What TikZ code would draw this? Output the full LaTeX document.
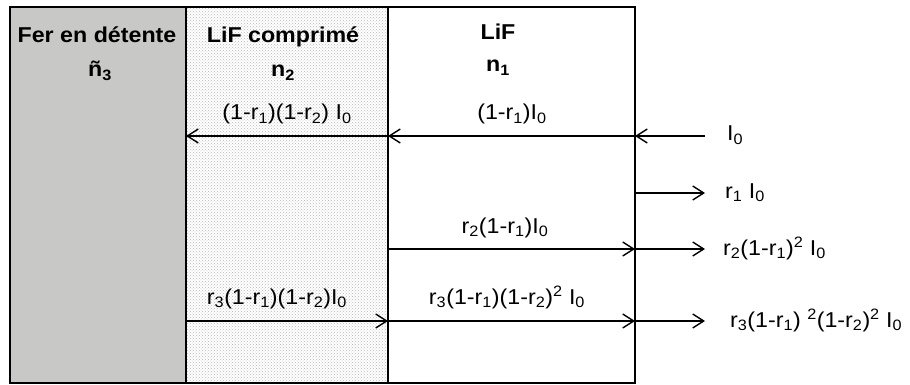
\documentclass[tikz,border=0pt]{standalone}
\usepackage{fontspec}
\setmainfont{Liberation Sans}[FakeStretch=1.08]
\usetikzlibrary{arrows.meta,patterns}
\definecolor{ferfill}{RGB}{200,201,199}
\newcommand{\rsub}[1]{r\textsubscript{#1}}
\newcommand{\nsub}[1]{n\textsubscript{#1}}
\newcommand{\Izero}{I\textsubscript{0}}
\newcommand{\sq}{\textsuperscript{2}}
\tikzset{
  title/.style={font=\fontsize{21.5}{25}\selectfont\bfseries, anchor=base, inner sep=0pt},
  flux/.style={font=\fontsize{21.5}{25}\selectfont, anchor=base, inner sep=0pt},
  exitlabel/.style={flux, anchor=base west},
  ray/.style={->, line width=1.4pt},
  wall/.style={line width=2pt}
}

\begin{document}
\begin{tikzpicture}[x=1pt, y=-1pt, >={Straight Barb[length=11pt,width=14pt]}]
\useasboundingbox (0,0) rectangle (910,385);
\fill[ferfill] (10,7) rectangle (186,383);
\fill[white] (186,7) rectangle (388,383);
\fill[pattern=crosshatch dots, pattern color=gray!55] (186,7) rectangle (388,383);
\draw[wall] (186,7) -- (186,383);
\draw[wall] (388,7) -- (388,383);
\draw[line width=2.6pt] (10,7) rectangle (635,383);

\node[title] (fer) at (97,43) {Fer en détente};
\node[title] (nfer) at (100,77) {ñ\textsubscript{3}};
\node[title] (lifc) at (283,43) {LiF comprimé};
\node[title] (nlifc) at (283,77) {\nsub{2}};
\node[title] (lif) at (498,40) {LiF};
\node[title] (nlif) at (498,72) {\nsub{1}};

\coordinate (src) at (705,136);
\coordinate (inA) at (635,136);
\coordinate (inB) at (388,136);
\coordinate (inC) at (186,136);
\coordinate (r1a) at (635,193);
\coordinate (r1b) at (705,193);
\coordinate (r2a) at (388,249);
\coordinate (r2b) at (635,249);
\coordinate (r2c) at (705,249);
\coordinate (r3a) at (186,321);
\coordinate (r3b) at (388,321);
\coordinate (r3c) at (635,321);
\coordinate (r3d) at (705,321);

\draw[ray] (src) -- (inA);
\draw[ray] (inA) -- (inB);
\draw[ray] (inB) -- (inC);
\draw[ray] (r1a) -- (r1b);
\draw[ray] (r2a) -- (r2b);
\draw[ray] (r2b) -- (r2c);
\draw[ray] (r3a) -- (r3b);
\draw[ray] (r3b) -- (r3c);
\draw[ray] (r3c) -- (r3d);

\node[flux] (t21) at (287,120) {(1-\rsub{1})(1-\rsub{2}) \Izero};
\node[flux] (t11) at (512,120) {(1-\rsub{1})\Izero};
\node[flux] (t12) at (505,233) {\rsub{2}(1-\rsub{1})\Izero};
\node[flux] (t13) at (507,304) {\rsub{3}(1-\rsub{1})(1-\rsub{2})\sq{} \Izero};
\node[flux] (t23) at (277,304) {\rsub{3}(1-\rsub{1})(1-\rsub{2})\Izero};

\node[exitlabel] (e0) at (727,141) {\Izero};
\node[exitlabel] (e1) at (725,198) {\rsub{1} \Izero};
\node[exitlabel] (e2) at (723,255) {\rsub{2}(1-\rsub{1})\sq{} \Izero};
\node[exitlabel] (e3) at (730,327) {\rsub{3}(1-\rsub{1}) \sq(1-\rsub{2})\sq{} \Izero};
\end{tikzpicture}
\end{document}
